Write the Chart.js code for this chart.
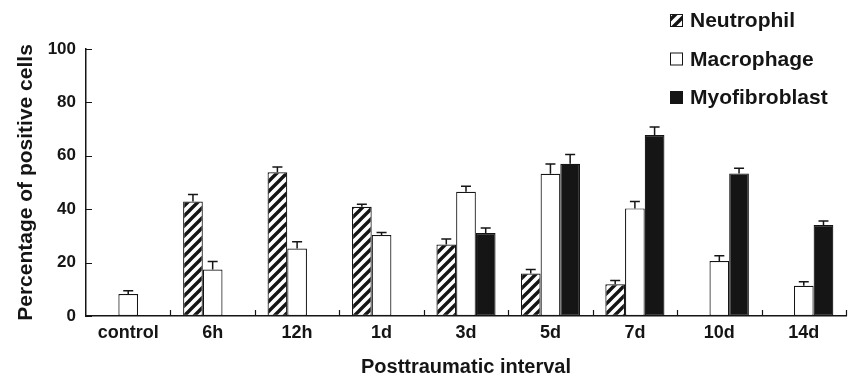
<!DOCTYPE html>
<html>
<head>
<meta charset="utf-8">
<script src="https://cdn.jsdelivr.net/npm/chart.js@4/dist/chart.umd.min.js"></script>
<style>
  html, body { margin: 0; padding: 0; background: #fff; }
  #wrap { width: 849px; height: 383px; }
</style>
</head>
<body>
<div id="wrap"><canvas id="myChart" width="849" height="383"></canvas></div>
<script>
const categories = ['control', '6h', '12h', '1d', '3d', '5d', '7d', '10d', '14d'];
const neutrophil = [null, 42.9, 53.8, 40.9, 26.8, 15.9, 11.9, null, null];
const neutrophilErr = [null, 2.6, 2.0, 1.0, 2.0, 1.5, 1.4, null, null];
const macrophage = [8.2, 17.4, 25.3, 30.3, 46.5, 53.3, 40.3, 20.6, 11.3];
const macrophageErr = [1.3, 3.0, 2.5, 1.0, 2.1, 3.6, 2.6, 2.0, 1.5];
const myofibroblast = [null, null, null, null, 31.1, 57.0, 67.8, 53.4, 34.1];
const myofibroblastErr = [null, null, null, null, 1.9, 3.5, 3.0, 1.9, 1.5];
const yTicks = [0, 20, 40, 60, 80, 100];

const FONT = "'Liberation Sans', Arial, Helvetica, sans-serif";
const INK = '#151515';

// diagonal hatch for the neutrophil bars
function makeHatch() {
  const c = document.createElement('canvas');
  c.width = 10; c.height = 10;
  const g = c.getContext('2d');
  g.fillStyle = '#fff';
  g.fillRect(0, 0, 10, 10);
  g.strokeStyle = INK;
  g.lineWidth = 3.4;
  g.beginPath();
  g.moveTo(-2, 12); g.lineTo(12, -2);
  g.moveTo(-7, 7); g.lineTo(7, -7);
  g.moveTo(3, 17); g.lineTo(17, 3);
  g.stroke();
  return g.createPattern(c, 'repeat');
}
const hatch = makeHatch();

const errorBars = {
  id: 'errorBars',
  afterDatasetsDraw(chart) {
    const ctx = chart.ctx;
    const y = chart.scales.y;
    ctx.save();
    ctx.strokeStyle = INK;
    ctx.lineWidth = 1.5;
    chart.data.datasets.forEach((ds, di) => {
      const meta = chart.getDatasetMeta(di);
      meta.data.forEach((bar, i) => {
        const v = ds.data[i], e = ds.errors[i];
        if (v == null || e == null) return;
        const top = y.getPixelForValue(v + e);
        ctx.beginPath();
        ctx.moveTo(bar.x, bar.y);
        ctx.lineTo(bar.x, top);
        ctx.moveTo(bar.x - 5, top);
        ctx.lineTo(bar.x + 5, top);
        ctx.stroke();
      });
    });
    ctx.restore();
  }
};

// small inward tick marks on both axes
const innerTicks = {
  id: 'innerTicks',
  afterDraw(chart) {
    const ctx = chart.ctx;
    const x = chart.scales.x, y = chart.scales.y;
    const a = chart.chartArea;
    ctx.save();
    ctx.strokeStyle = INK;
    ctx.lineWidth = 1.2;
    ctx.beginPath();
    yTicks.forEach(t => {
      const py = Math.round(y.getPixelForValue(t)) + 0.5;
      ctx.moveTo(a.left, py);
      ctx.lineTo(a.left + 6, py);
    });
    for (let i = 0; i < categories.length; i++) {
      let px;
      if (i < categories.length - 1) px = (x.getPixelForValue(i) + x.getPixelForValue(i + 1)) / 2;
      else px = a.right;
      px = Math.round(px) + 0.5;
      ctx.moveTo(px, a.bottom);
      ctx.lineTo(px, a.bottom - 6);
    }
    ctx.stroke();
    ctx.restore();
  }
};

const customLegend = {
  id: 'customLegend',
  afterDraw(chart) {
    const ctx = chart.ctx;
    const left = 670, top0 = 14, gap = 38.5, box = 13;
    ctx.save();
    ctx.font = 'bold 21px ' + FONT;
    ctx.textBaseline = 'middle';
    ctx.fillStyle = INK;
    chart.data.datasets.forEach((ds, i) => {
      const ty = top0 + i * gap;
      ctx.fillStyle = ds.backgroundColor;
      ctx.fillRect(left, ty, box, box);
      ctx.strokeStyle = INK;
      ctx.lineWidth = 1;
      ctx.strokeRect(left + 0.5, ty + 0.5, box - 1, box - 1);
      ctx.fillStyle = INK;
      ctx.fillText(ds.label, left + 20, ty + box / 2 + 1);
    });
    ctx.restore();
  }
};

window.addEventListener('load', setup);

function setup() {
  const ctx = document.getElementById('myChart').getContext('2d');
  const myChart = new Chart(ctx, {
    type: 'bar',
    data: {
      labels: categories,
      datasets: [
        { label: 'Neutrophil', data: neutrophil, errors: neutrophilErr, backgroundColor: hatch, borderColor: INK, borderWidth: 1.2, borderSkipped: false },
        { label: 'Macrophage', data: macrophage, errors: macrophageErr, backgroundColor: '#ffffff', borderColor: INK, borderWidth: 1.2, borderSkipped: false },
        { label: 'Myofibroblast', data: myofibroblast, errors: myofibroblastErr, backgroundColor: INK, borderColor: INK, borderWidth: 1.2, borderSkipped: false }
      ]
    },
    options: {
      responsive: false,
      animation: false,
      events: [],
      layout: { padding: { top: 49, right: 3, bottom: 0, left: 0 } },
      datasets: { bar: { categoryPercentage: 0.7, barPercentage: 1.0 } },
      plugins: { legend: { display: false }, tooltip: { enabled: false } },
      scales: {
        x: {
          grid: { display: false, drawTicks: false },
          border: { display: true, color: INK, width: 1.5 },
          ticks: { color: INK, font: { family: FONT, size: 18, weight: 'bold' }, padding: 6, maxRotation: 0, autoSkip: false },
          title: { display: true, text: 'Posttraumatic interval', color: INK, font: { family: FONT, size: 20, weight: 'bold' }, padding: { top: 0, bottom: 4 } },
          afterFit: s => { s.height = 67; }
        },
        y: {
          min: 0, max: 100,
          afterBuildTicks: s => { s.ticks = yTicks.map(v => ({ value: v })); },
          grid: { display: false, drawTicks: false },
          border: { display: true, color: INK, width: 1.5 },
          ticks: { color: INK, font: { family: FONT, size: 17, weight: 'bold' }, padding: 10 },
          title: { display: true, text: 'Percentage of positive cells', color: INK, font: { family: FONT, size: 21, weight: 'bold' }, padding: { top: 14, bottom: 0 } },
          afterFit: s => { s.width = 86; }
        }
      }
    },
    plugins: [errorBars, innerTicks, customLegend]
  });
}
</script>
</body>
</html>
